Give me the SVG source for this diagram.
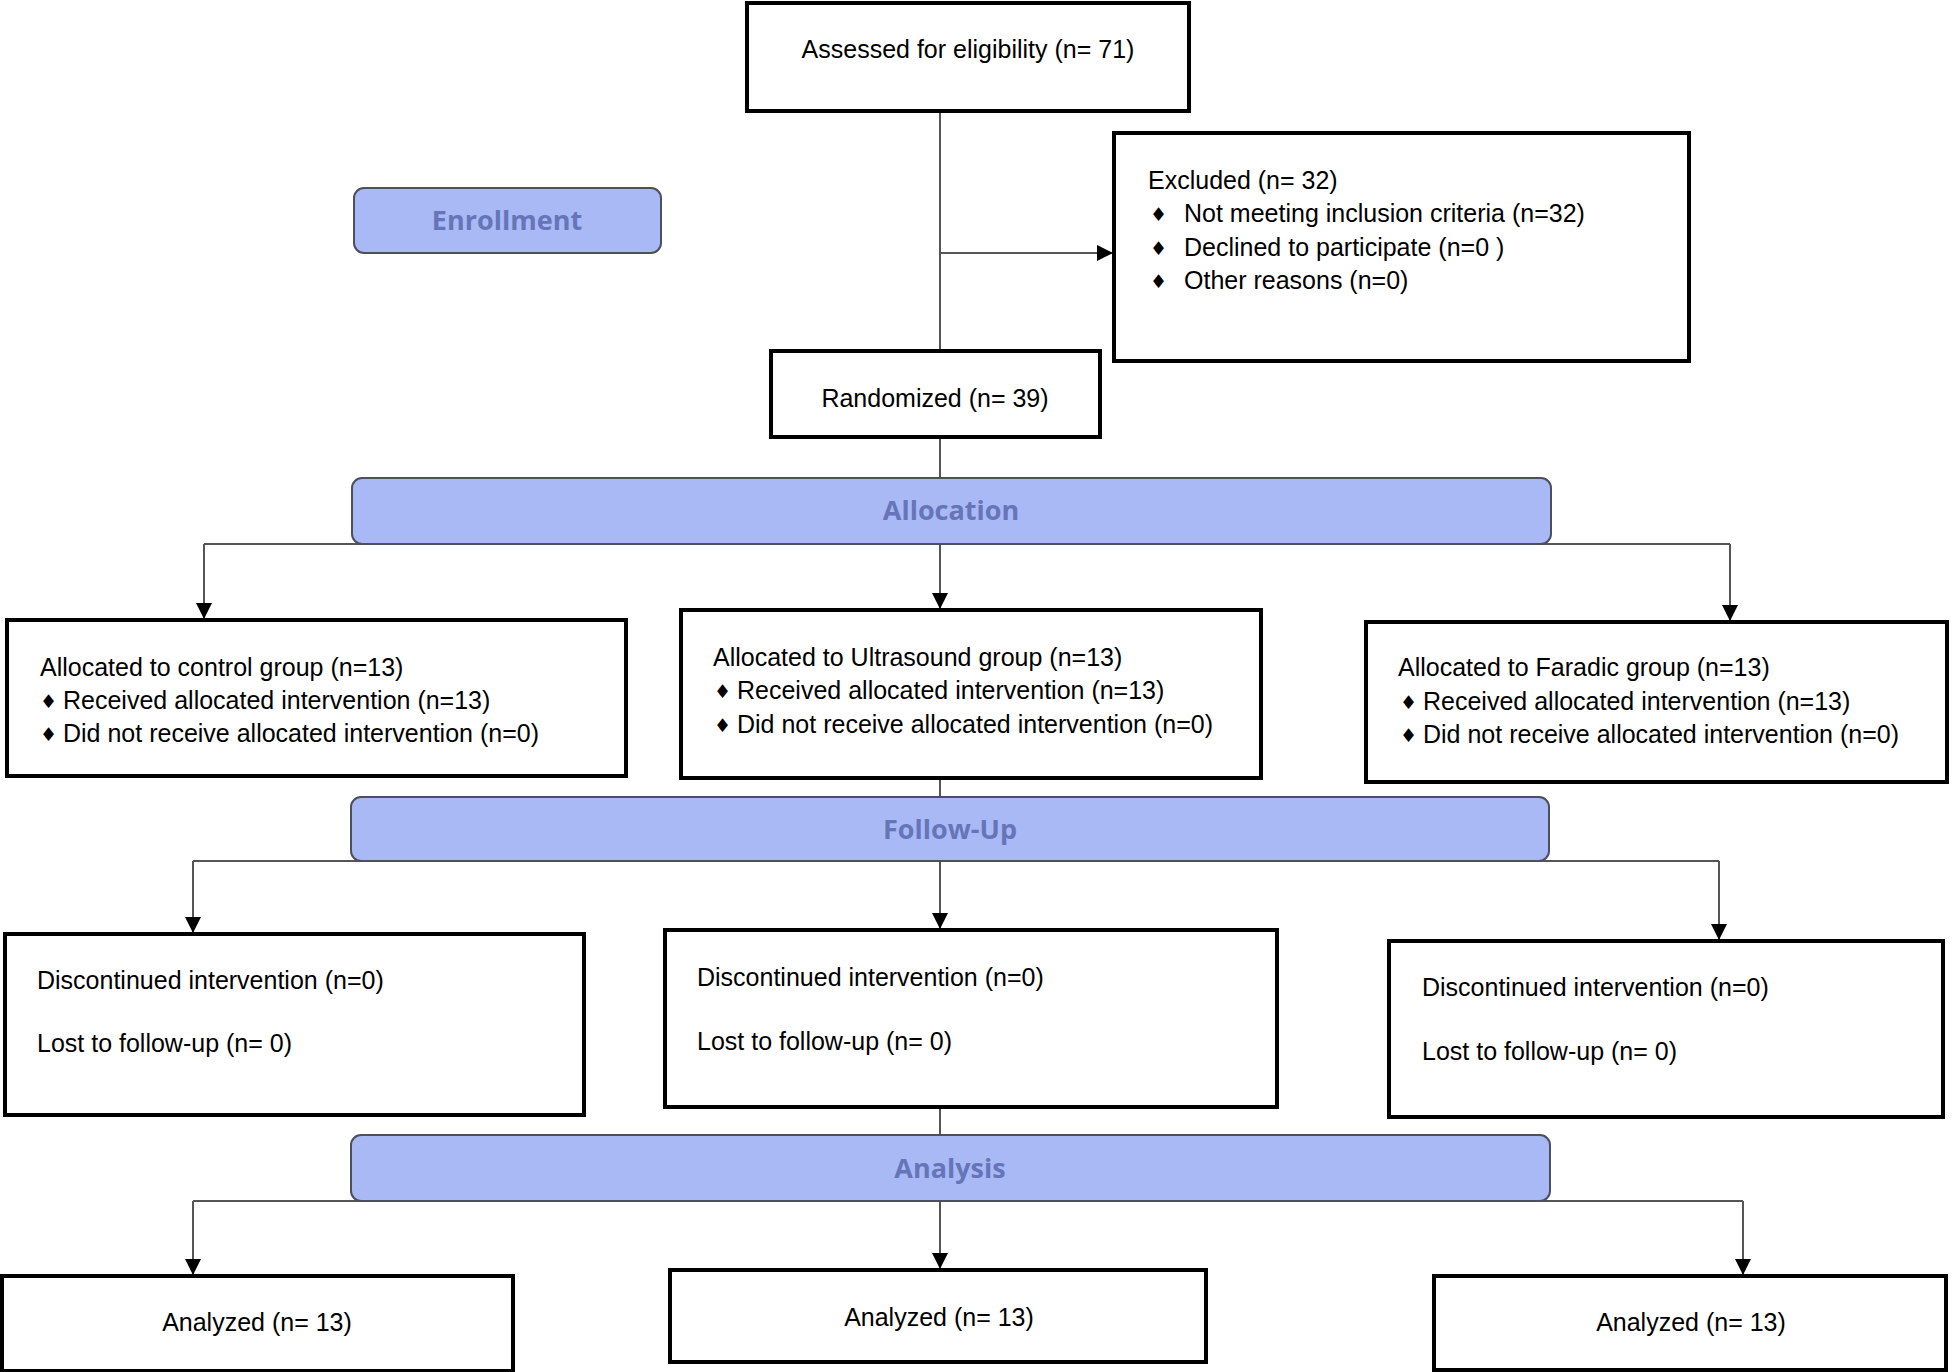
<svg xmlns="http://www.w3.org/2000/svg" width="1952" height="1372" viewBox="0 0 1952 1372">
<style>
.box{fill:#fff;stroke:#000;stroke-width:4}
.pill{fill:#a8b9f5;stroke:#4d4f5c;stroke-width:2}
.pt{font-family:"Open Sans","Noto Sans",sans-serif;font-weight:bold;font-size:27px;fill:#6675b8;text-anchor:middle}
.t{font-family:"Liberation Sans",Arial,sans-serif;font-size:25px;fill:#000}
.c{text-anchor:middle}
.b{font-family:"DejaVu Sans",sans-serif;font-size:19px;fill:#000}
.ln{stroke:#555;stroke-width:2;fill:none}
</style>
<defs>
<marker id="ah" viewBox="0 0 10 10" refX="10" refY="5" markerWidth="16" markerHeight="16" markerUnits="userSpaceOnUse" orient="auto">
<path d="M0,0 L10,5 L0,10 z" fill="#000"/>
</marker>
</defs>
<rect width="1952" height="1372" fill="#fff"/>
<g id="connectors">
<line class="ln" x1="940" y1="111" x2="940" y2="351"/>
<line class="ln" x1="940" y1="253" x2="1113" y2="253" marker-end="url(#ah)"/>
<line class="ln" x1="940" y1="437" x2="940" y2="478"/>
<polyline class="ln" points="204,544 1730,544"/>
<line class="ln" x1="204" y1="544" x2="204" y2="619" marker-end="url(#ah)"/>
<line class="ln" x1="940" y1="544" x2="940" y2="609" marker-end="url(#ah)"/>
<line class="ln" x1="1730" y1="544" x2="1730" y2="621" marker-end="url(#ah)"/>
<line class="ln" x1="940" y1="778" x2="940" y2="797"/>
<polyline class="ln" points="193,861 1719,861"/>
<line class="ln" x1="193" y1="861" x2="193" y2="933" marker-end="url(#ah)"/>
<line class="ln" x1="940" y1="861" x2="940" y2="929" marker-end="url(#ah)"/>
<line class="ln" x1="1719" y1="861" x2="1719" y2="940" marker-end="url(#ah)"/>
<line class="ln" x1="940" y1="1107" x2="940" y2="1135"/>
<polyline class="ln" points="193,1201 1743,1201"/>
<line class="ln" x1="193" y1="1201" x2="193" y2="1275" marker-end="url(#ah)"/>
<line class="ln" x1="940" y1="1201" x2="940" y2="1269" marker-end="url(#ah)"/>
<line class="ln" x1="1743" y1="1201" x2="1743" y2="1275" marker-end="url(#ah)"/>
</g>
<g id="assessed">
<rect class="box" x="747" y="3" width="442" height="108"/>
<text class="t c" x="968" y="58">Assessed for eligibility (n= 71)</text>
</g>
<g id="enrollment">
<rect class="pill" x="354" y="188" width="307" height="65" rx="10"/>
<text class="pt" x="507" y="230">Enrollment</text>
</g>
<g id="excluded">
<rect class="box" x="1114" y="133" width="575" height="228"/>
<text class="t" x="1148" y="189">Excluded (n= 32)</text>
<text class="b" x="1150" y="221">♦</text><text class="t" x="1184" y="222">Not meeting inclusion criteria (n=32)</text>
<text class="b" x="1150" y="255">♦</text><text class="t" x="1184" y="256">Declined to participate (n=0 )</text>
<text class="b" x="1150" y="288">♦</text><text class="t" x="1184" y="289">Other reasons (n=0)</text>
</g>
<g id="randomized">
<rect class="box" x="771" y="351" width="329" height="86"/>
<text class="t c" x="935" y="407">Randomized (n= 39)</text>
</g>
<g id="allocation">
<rect class="pill" x="352" y="478" width="1199" height="66" rx="10"/>
<text class="pt" x="951" y="520">Allocation</text>
</g>
<g id="control">
<rect class="box" x="7" y="620" width="619" height="156"/>
<text class="t" x="40" y="676">Allocated to control group (n=13)</text>
<text class="b" x="40" y="708">♦</text><text class="t" x="63" y="709">Received allocated intervention (n=13)</text>
<text class="b" x="40" y="741">♦</text><text class="t" x="63" y="742">Did not receive allocated intervention (n=0)</text>
</g>
<g id="ultrasound">
<rect class="box" x="681" y="610" width="580" height="168"/>
<text class="t" x="713" y="666">Allocated to Ultrasound group (n=13)</text>
<text class="b" x="714" y="698">♦</text><text class="t" x="737" y="699">Received allocated intervention (n=13)</text>
<text class="b" x="714" y="732">♦</text><text class="t" x="737" y="733">Did not receive allocated intervention (n=0)</text>
</g>
<g id="faradic">
<rect class="box" x="1366" y="622" width="581" height="160"/>
<text class="t" x="1398" y="676">Allocated to Faradic group (n=13)</text>
<text class="b" x="1400" y="709">♦</text><text class="t" x="1423" y="710">Received allocated intervention (n=13)</text>
<text class="b" x="1400" y="742">♦</text><text class="t" x="1423" y="743">Did not receive allocated intervention (n=0)</text>
</g>
<g id="followup">
<rect class="pill" x="351" y="797" width="1198" height="64" rx="10"/>
<text class="pt" x="950" y="839">Follow-Up</text>
</g>
<g id="fu-left">
<rect class="box" x="5" y="934" width="579" height="181"/>
<text class="t" x="37" y="989">Discontinued intervention (n=0)</text>
<text class="t" x="37" y="1052">Lost to follow-up (n= 0)</text>
</g>
<g id="fu-mid">
<rect class="box" x="665" y="930" width="612" height="177"/>
<text class="t" x="697" y="986">Discontinued intervention (n=0)</text>
<text class="t" x="697" y="1050">Lost to follow-up (n= 0)</text>
</g>
<g id="fu-right">
<rect class="box" x="1389" y="941" width="554" height="176"/>
<text class="t" x="1422" y="996">Discontinued intervention (n=0)</text>
<text class="t" x="1422" y="1060">Lost to follow-up (n= 0)</text>
</g>
<g id="analysis">
<rect class="pill" x="351" y="1135" width="1199" height="66" rx="10"/>
<text class="pt" x="950" y="1178">Analysis</text>
</g>
<g id="an-left">
<rect class="box" x="2" y="1276" width="511" height="95"/>
<text class="t c" x="257" y="1331">Analyzed (n= 13)</text>
</g>
<g id="an-mid">
<rect class="box" x="670" y="1270" width="536" height="92"/>
<text class="t c" x="939" y="1326">Analyzed (n= 13)</text>
</g>
<g id="an-right">
<rect class="box" x="1434" y="1276" width="512" height="94"/>
<text class="t c" x="1691" y="1331">Analyzed (n= 13)</text>
</g>
</svg>
